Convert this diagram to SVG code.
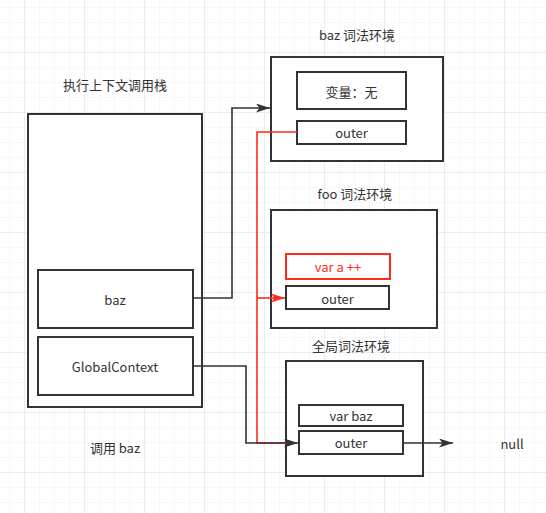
<svg xmlns="http://www.w3.org/2000/svg" width="546" height="513" viewBox="0 0 546 513">
<defs>
<pattern id="minor" x="9" y="7" width="15" height="15" patternUnits="userSpaceOnUse">
<path d="M0 0H15M0 0V15" fill="none" stroke="#efefef" stroke-width="1"/>
</pattern>
<pattern id="major" x="24" y="52" width="60" height="60" patternUnits="userSpaceOnUse">
<path d="M0 0H60M0 0V60" fill="none" stroke="#e2e2e2" stroke-width="1"/>
</pattern>
<marker id="ab" viewBox="0 0 10 10" refX="10" refY="5" markerWidth="14" markerHeight="9" markerUnits="userSpaceOnUse" orient="auto" preserveAspectRatio="none">
<path d="M0 0L10 5L0 10L2.5 5Z" fill="#333"/>
</marker>
<marker id="ar" viewBox="0 0 10 10" refX="10" refY="5" markerWidth="14" markerHeight="9" markerUnits="userSpaceOnUse" orient="auto" preserveAspectRatio="none">
<path d="M0 0L10 5L0 10L2.5 5Z" fill="#ff2a1a"/>
</marker>
</defs>
<style>
.box{fill:#fff;stroke:#333;stroke-width:2}
.rbox{fill:#fff;stroke:#ff2a1a;stroke-width:2}
.t{font-family:"Noto Sans CJK SC","Noto Sans",sans-serif;font-size:13px;fill:#333;text-anchor:middle;dominant-baseline:central}
.tr{fill:#ff2a1a}
.c{fill:none;stroke:#333;stroke-width:1.6}
.cr{fill:none;stroke:#ff2a1a;stroke-width:1.6}
</style>
<rect width="546" height="513" fill="#fff"/>
<rect width="546" height="513" fill="url(#minor)"/>
<rect width="546" height="513" fill="url(#major)"/>

<g id="stack">
<text class="t" x="115" y="84">执行上下文调用栈</text>
<rect class="box" x="28" y="114" width="174" height="293"/>
</g>
<g id="baz">
<rect class="box" x="38" y="270" width="155" height="58"/>
<text class="t" x="115" y="299">baz</text>
</g>
<g id="global-context">
<rect class="box" x="38" y="337" width="155" height="58"/>
<text class="t" x="115" y="366">GlobalContext</text>
</g>
<g id="call-label">
<text class="t" x="115" y="447">调用 baz</text>
</g>

<g id="baz-env">
<text class="t" x="357" y="34">baz 词法环境</text>
<rect class="box" x="271" y="57" width="172" height="104"/>
<rect class="box" x="297" y="72" width="109" height="37"/>
<text class="t" x="351.5" y="91">变量：无</text>
<rect class="box" x="297" y="121" width="109" height="23"/>
<text class="t" x="351.5" y="132">outer</text>
</g>

<g id="foo-env">
<text class="t" x="355" y="193">foo 词法环境</text>
<rect class="box" x="271" y="210" width="166" height="118"/>
<rect class="rbox" x="286" y="254" width="104" height="25"/>
<text class="t tr" x="338" y="266">var a ++</text>
<rect class="box" x="286" y="286" width="103" height="23"/>
<text class="t" x="337.5" y="298">outer</text>
</g>

<g id="global-env">
<text class="t" x="351" y="345">全局词法环境</text>
<rect class="box" x="286" y="361" width="137" height="115"/>
<rect class="box" x="299" y="405" width="104" height="21"/>
<text class="t" x="351" y="415.5">var baz</text>
<rect class="box" x="299" y="431" width="104" height="23"/>
<text class="t" x="351" y="442.5">outer</text>
</g>

<g id="null">
<text class="t" x="512" y="443">null</text>
</g>

<g id="connectors">
<path class="cr" d="M297 132H257V443H290"/>
<path class="cr" d="M257 298H285" marker-end="url(#ar)"/>
<path class="c" d="M193 298H232V108H270" marker-end="url(#ab)"/>
<path class="c" d="M193 366H246V443H298" marker-end="url(#ab)"/>
<path class="c" d="M403 443H453" marker-end="url(#ab)"/>
</g>
</svg>
